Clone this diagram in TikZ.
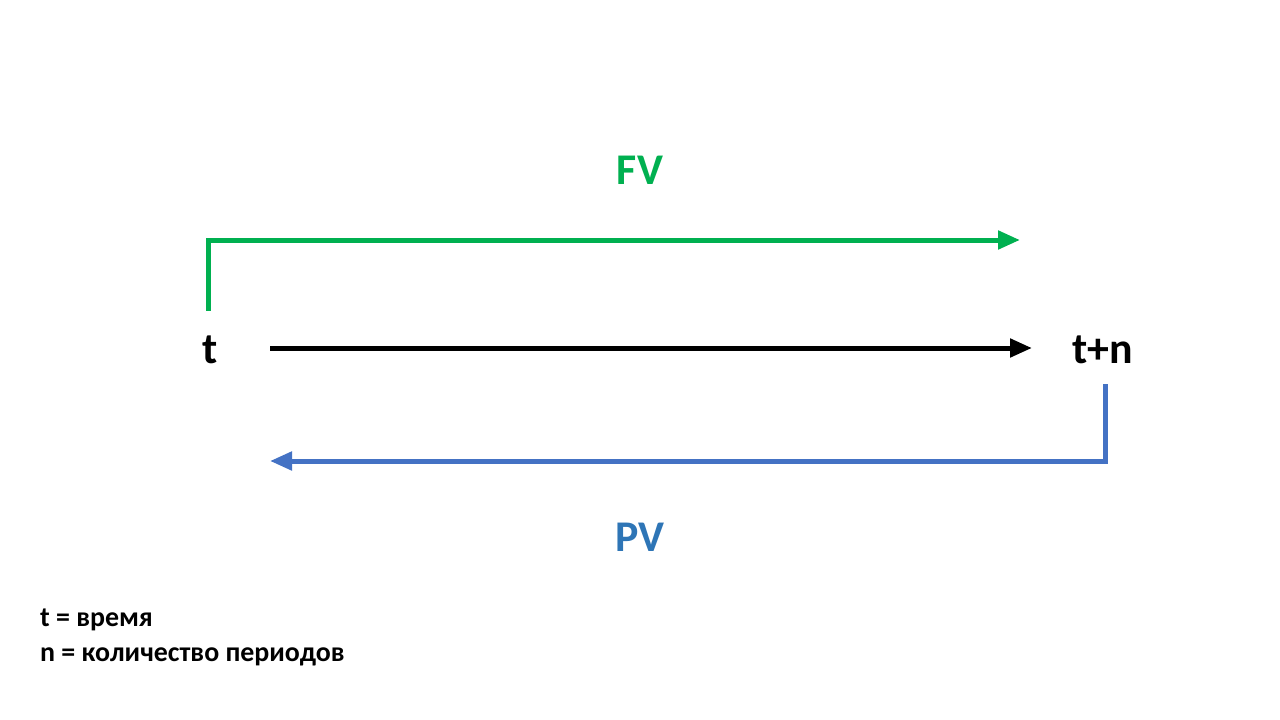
\documentclass[tikz,border=0pt]{standalone}
\usepackage{fontspec}
\setmainfont{Carlito}
\usetikzlibrary{arrows.meta,positioning}
\definecolor{fvgreen}{RGB}{0,176,80}
\definecolor{pvblue}{RGB}{68,114,196}
\definecolor{pvtext}{RGB}{46,117,182}
\tikzset{flow/.style={line width=5bp, -{Triangle[length=22bp,width=18bp]}},
  point/.style={font=\fontsize{44}{48}\selectfont\bfseries, inner sep=0pt},
  legend/.style={font=\fontsize{28}{32}\selectfont\bfseries, anchor=west, inner sep=0pt}}
\begin{document}
\begin{tikzpicture}[x=1bp,y=-1bp]
    \useasboundingbox[fill=white] (0,0) rectangle (1280,720);
    \node[point] (t) at (210,350) {t};
    \node[point] (tn) at (1103,350) {t+n};
    \node[point, text=fvgreen] (FV) at (640,170) {FV};
    \node[point, text=pvtext] (PV) at (640,537) {PV};
    \coordinate (fvend) at (1020,240);
    \coordinate (pvend) at (270,461);
    \coordinate (tlstart) at (270,348);
    \coordinate (tlend) at (1032,348);
    \draw[flow, fvgreen] ([xshift=-2bp,yshift=25bp]t.north) |- (fvend);
    \draw[flow, black] (tlstart) -- (tlend);
    \draw[flow, pvblue] ([xshift=2bp,yshift=-20bp]tn.south) |- (pvend);
    \node[legend] (leg1) at (40,620) {t = время};
    \node[legend, below=16bp of leg1.south west, anchor=north west] (leg2) {n = количество периодов};
\end{tikzpicture}
\end{document}
